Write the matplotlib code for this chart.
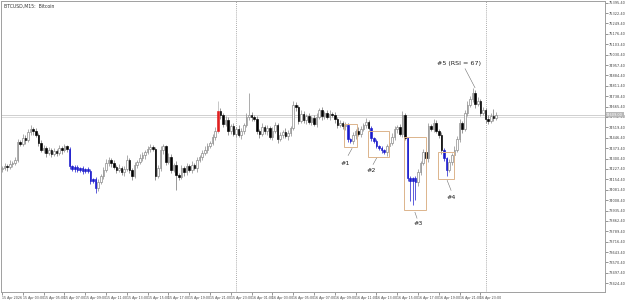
import matplotlib
matplotlib.use("Agg")
import matplotlib.pyplot as plt
from matplotlib.patches import Rectangle
import numpy as np

# M15 closes, 15-16 Apr (open = previous close)
first_open = 74224
closes = [
    74231, 74245, 74238, 74259, 74266, 74287, 74420, 74406, 74448, 74434,
    74490, 74511, 74497, 74469, 74413, 74357, 74371, 74336, 74357, 74329,
    74350, 74336, 74371, 74357, 74385, 74364,
    74245, 74224, 74238, 74217, 74231, 74210, 74224, 74210, 74140, 74154, 74091,
    74133, 74175, 74217, 74266, 74287,
    74266, 74238, 74217, 74231, 74203, 74224, 74287, 74217,
    74175, 74252, 74273, 74301, 74322, 74343, 74364, 74378, 74364, 74175,
    74231, 74357, 74385, 74273, 74308, 74217, 74252, 74182, 74168, 74231,
    74203, 74245, 74217, 74252, 74231, 74287, 74308, 74336, 74357, 74392,
    74413, 74455, 74497, 74637, 74609, 74546, 74574, 74497, 74532, 74476,
    74511, 74469, 74497, 74539, 74595, 74609, 74595, 74581, 74497, 74476,
    74525, 74497, 74518, 74455, 74497, 74539, 74441, 74469, 74490, 74462,
    74483, 74518, 74679, 74665, 74567, 74616, 74574, 74602, 74560, 74588,
    74546, 74595, 74644, 74602, 74623, 74595, 74616, 74609, 74581, 74539,
    74553, 74532, 74539, 74441, 74427, 74469, 74497, 74476, 74511, 74539,
    74560, 74518, 74448, 74427, 74392, 74371, 74357, 74343, 74385, 74413,
    74455, 74511, 74525, 74476, 74609, 74448, 74161, 74140, 74161, 74133,
    74203, 74266, 74343, 74301, 74532, 74511, 74553, 74497, 74469, 74357,
    74301, 74217, 74273, 74322, 74357, 74441, 74553, 74511, 74623, 74679,
    74721, 74763, 74686, 74707, 74623, 74644, 74581, 74567, 74602, 74588,
    74609,
]
wick_up = [
    14, 21, 14, 28, 14, 21, 21, 14, 28, 21, 21, 28, 14, 21, 14, 21, 28, 14, 21, 14,
    21, 14, 28, 14, 21, 14, 14, 7, 14, 14, 7, 14, 7, 14, 14, 7, 14, 21, 14, 21,
    28, 21, 14, 21, 14, 28, 14, 21, 35, 14, 14, 21, 14, 28, 21, 14, 21, 28, 21, 14,
    21, 28, 21, 14, 28, 21, 14, 28, 14, 21, 14, 21, 14, 28, 14, 21, 14, 21, 28, 21,
    14, 21, 28, 70, 21, 14, 28, 21, 14, 21, 14, 28, 21, 14, 28, 154, 21, 14, 21, 14,
    28, 14, 21, 14, 28, 21, 14, 21, 14, 28, 21, 14, 28, 21, 14, 28, 21, 14, 21, 14,
    21, 28, 14, 21, 14, 21, 28, 14, 21, 14, 21, 14, 21, 14, 7, 21, 14, 28, 21, 14,
    28, 14, 14, 7, 14, 7, 14, 7, 21, 14, 28, 21, 14, 21, 28, 14, 7, 14, 7, 14,
    21, 14, 21, 28, 21, 14, 28, 21, 14, 21, 14, 7, 21, 14, 28, 21, 28, 14, 21, 28,
    21, 35, 21, 28, 14, 21, 14, 28, 21, 49, 21,
]
wick_dn = [
    21, 14, 28, 14, 21, 14, 14, 21, 14, 28, 14, 21, 28, 14, 21, 14, 21, 28, 14, 21,
    14, 21, 14, 28, 14, 21, 21, 14, 21, 14, 14, 21, 14, 14, 21, 14, 35, 21, 14, 21,
    14, 21, 28, 14, 21, 14, 21, 28, 14, 21, 28, 14, 21, 14, 21, 28, 14, 21, 14, 28,
    14, 21, 28, 21, 14, 21, 14, 105, 21, 14, 28, 21, 14, 21, 14, 28, 14, 21, 14, 21,
    21, 14, 21, 14, 28, 21, 14, 28, 21, 14, 21, 14, 28, 21, 14, 21, 28, 14, 21, 28,
    14, 21, 28, 14, 21, 14, 28, 14, 21, 14, 28, 21, 14, 28, 21, 14, 21, 28, 14, 21,
    14, 21, 14, 28, 21, 14, 21, 14, 28, 21, 14, 21, 28, 21, 14, 21, 28, 14, 21, 14,
    21, 14, 21, 14, 21, 14, 21, 14, 28, 21, 14, 21, 28, 14, 21, 14, 21, 140, 168, 126,
    28, 21, 14, 21, 28, 14, 21, 14, 21, 28,
    21, 42, 14, 21, 28, 14, 21, 28, 14, 21,
    14, 21, 28, 14, 21, 14, 28, 21, 14, 21, 14,
]
assert len(closes) == len(wick_up) == len(wick_dn)

blue_bars = list(range(26, 37)) + [133, 134] + list(range(142, 148)) + [156, 157, 158, 159, 170, 171]
red_bars = [83]

# boxes: bar range and price range
box_x0 = [131.5, 140.8, 154.6, 167.7]
box_x1 = [136.5, 148.8, 163.1, 173.8]
box_hi = [74546, 74497, 74455, 74343]
box_lo = [74378, 74308, 73937, 74154]

notes = ["#1", "#2", "#3", "#4", "#5 (RSI = 67)"]
note_x = [131.9, 142.1, 160.2, 172.9, 175.8]
note_y = [74266, 74217, 73846, 74028, 74966]
lead_from = [(134.6, 74371), (144.2, 74308), (158.8, 73923), (171.2, 74147), (178.1, 74931)]
lead_to = [(133.1, 74322), (142.7, 74259), (159.6, 73881), (172.7, 74077), (181.9, 74798)]

day_lines = [90, 186]
time_labels = (["15 Apr 2026"] + ["15 Apr %02d:00" % h for h in range(3, 24, 2)]
               + ["16 Apr %02d:00" % h for h in range(1, 24, 2)])
ask_price = 74595

opens = [first_open] + closes[:-1]
o = np.array(opens, float)
c = np.array(closes, float)
hi = np.maximum(o, c) + np.array(wick_up)
lo = np.minimum(o, c) - np.array(wick_dn)
idx = np.arange(len(c))

fig = plt.figure(figsize=(6.25, 3.0), dpi=100)
ax = fig.add_axes([1 / 625, 8 / 300, 604 / 625, 291 / 300])
ax.set_xlim(-0.4, 231.9)
ax.set_ylim(73363, 75407)

for x in day_lines:
    ax.axvline(x, color="#909090", lw=0.6, ls=(0, (1, 1.5)), zorder=1)
ax.axhline(c[-1], color="#c8c8c8", lw=0.6, zorder=1)
ax.axhline(ask_price, color="#d8d8d8", lw=0.6, zorder=1)

colors = []
for i in idx:
    if i in blue_bars:
        colors.append(("#1a1acc", "#1a1acc", "#1a1acc"))
    elif i in red_bars:
        colors.append(("#e02020", "#e02020", "#b0b0b0"))
    elif c[i] < o[i]:
        colors.append(("#000000", "#000000", "#707070"))
    else:
        colors.append(("#ffffff", "#808080", "#8a8a8a"))

for i in idx:
    face, edge, wc = colors[i]
    ax.vlines(i, lo[i], hi[i], color=wc, lw=0.5, zorder=2)
    h = max(abs(c[i] - o[i]), 6)
    ax.bar(i, h, bottom=min(o[i], c[i]), width=0.62, color=face,
           edgecolor=edge, linewidth=0.45, zorder=3)

for x0, x1, t, b in zip(box_x0, box_x1, box_hi, box_lo):
    ax.add_patch(Rectangle((x0, b), x1 - x0, t - b, fill=False,
                           edgecolor="#dcb48c", lw=0.7, zorder=4))
for s, x, y in zip(notes, note_x, note_y):
    ax.text(x, y, s, fontsize=4.6, ha="center", va="center", color="#222222")
for (x0, y0), (x1, y1) in zip(lead_from, lead_to):
    ax.plot([x0, x1], [y0, y1], color="#707070", lw=0.4)

ax.text(0.005, 0.99, "BTCUSD,M15:  Bitcoin", transform=ax.transAxes,
        fontsize=3.3, va="top", ha="left", color="#333333")

for sp in ax.spines.values():
    sp.set_color("#a0a0a0")
    sp.set_linewidth(0.7)

ax.yaxis.tick_right()
yt = 75395.40 - 73.0 * np.arange(28)
ax.set_yticks(yt)
ax.set_yticklabels(["%.2f" % v for v in yt])
ax.tick_params(axis="y", labelsize=2.5, length=2, width=0.4, pad=0.8,
               colors="#444444")
ax.set_xticks(np.arange(0, 8 * len(time_labels), 8))
ax.set_xticklabels(time_labels, ha="left")
ax.tick_params(axis="x", labelsize=2.3, length=2, width=0.4, pad=1,
               colors="#444444")

ax.text(1.002, c[-1], "%.2f" % c[-1], transform=ax.get_yaxis_transform(),
        fontsize=2.5, va="center", ha="left", color="#ffffff",
        bbox=dict(boxstyle="square,pad=0.15", fc="#b8b8b8", ec="none"))

fig.savefig("out.png", dpi=100)
